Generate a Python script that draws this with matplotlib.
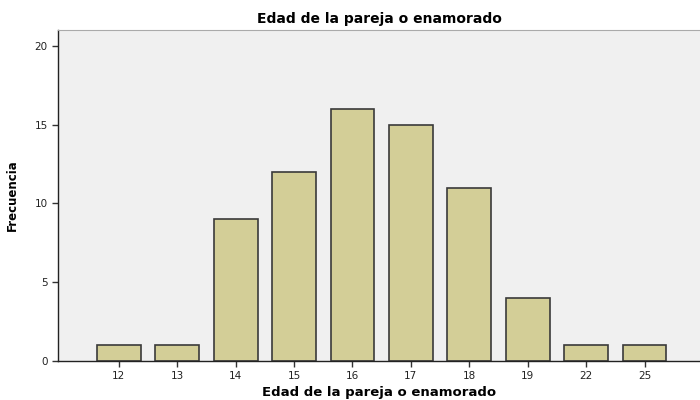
import numpy as np
import matplotlib.pyplot as plt

# Datos
edades = ["12", "13", "14", "15", "16", "17", "18", "19", "22", "25"]
frecuencia = [1, 1, 9, 12, 16, 15, 11, 4, 1, 1]

fig = plt.figure(figsize=(7, 4), dpi=100)
ax = fig.add_axes([0.083, 0.0975, 0.917, 0.8275])
ax.set_facecolor("#F0F0F0")

x = np.arange(len(edades))
ax.bar(x, frecuencia, width=0.75, color="#D3CE97", edgecolor="#3a3a3a", linewidth=1.2)

ax.set_xlim(-1.04, 9.95)
ax.set_ylim(0, 21)
ax.set_xticks(x)
ax.set_xticklabels(edades, fontsize=7.5, color="#222222")
ax.set_yticks([0, 5, 10, 15, 20])
ax.set_yticklabels(["0", "5", "10", "15", "20"], fontsize=7.5, color="#222222")
ax.tick_params(direction="out", length=4, width=1, color="#333333")

for side in ["left", "bottom"]:
    ax.spines[side].set_color("#222222")
    ax.spines[side].set_linewidth(1)
ax.spines["top"].set_color("#aaaaaa")
ax.spines["right"].set_visible(False)

ax.set_title("Edad de la pareja o enamorado", fontsize=10, fontweight="bold", pad=5)
ax.set_xlabel("Edad de la pareja o enamorado", fontsize=9.5, fontweight="bold", labelpad=3)
ax.set_ylabel("Frecuencia", fontsize=8.5, fontweight="bold", labelpad=11)

fig.savefig("out.png", dpi=100)
